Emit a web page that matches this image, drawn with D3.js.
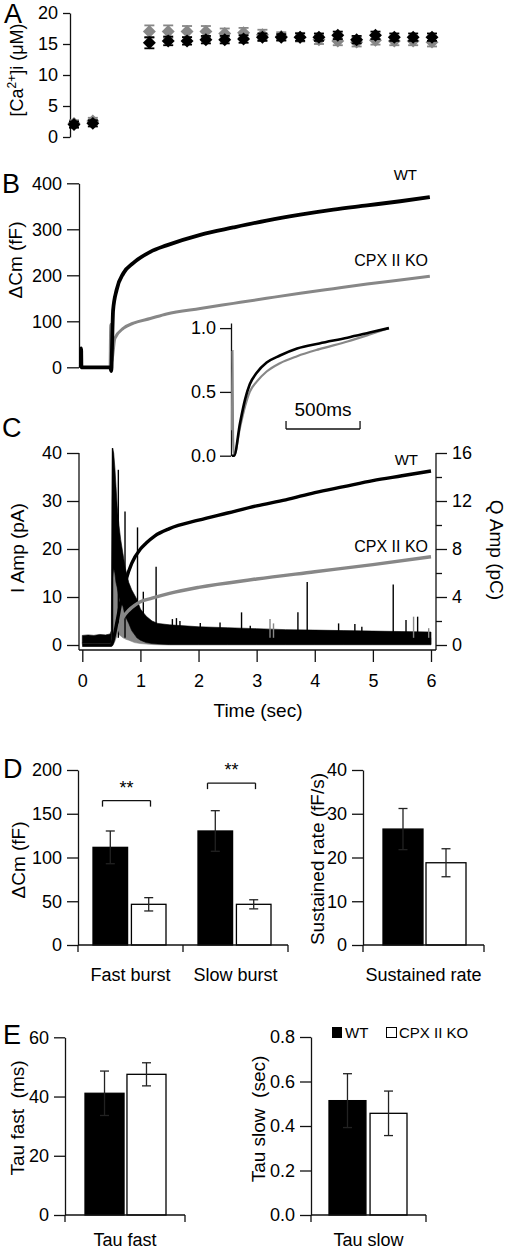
<!DOCTYPE html>
<html><head><meta charset="utf-8">
<script src="https://cdn.jsdelivr.net/npm/d3@7"></script>
<style>
body{margin:0;background:#fff;}
svg{display:block;font-family:"Liberation Sans",Arial,sans-serif;}
</style></head><body>
<svg id="c" width="508" height="1252"></svg>
<script>
// ---------- Panel A data ----------
const caIndex = [0,1,4,5,6,7,8,9,10,11,12,13,14,15,16,17,18,19];
const caWT    = [2.0,2.2,15.2,15.5,15.5,15.7,15.7,15.8,16.1,16.1,16.1,16.1,16.4,15.7,16.4,16.1,16.1,16.1];
const caWTErr = [0.5,0.5,0.9,0.7,0.6,0.6,0.6,0.6,0.6,0.5,0.6,0.6,0.6,0.6,0.6,0.6,0.6,0.6];
const caKO    = [2.2,2.6,17.0,17.0,17.0,17.0,16.7,16.8,16.5,16.2,16.1,15.7,15.5,15.3,15.6,15.5,15.5,15.3];
const caKOErr = [0.5,0.5,1.0,1.0,0.9,0.9,0.8,0.8,0.8,0.7,0.7,0.7,0.7,0.7,0.7,0.7,0.7,0.7];
const caTicks = [0,5,10,15,20];

// ---------- Panel B data ([time s, dCm fF]) ----------
const cmWT = [[-0.025,0],[-0.02,41],[-0.015,0],[0,0],[0.25,0],[0.48,0],[0.5,-8],[0.51,37],[0.53,124],[0.59,168],[0.71,205],[0.88,227],[1.17,251],[1.45,265],[2.03,288],[2.6,304],[3.17,319],[3.75,332],[4.32,343],[4.9,352],[5.47,361],[5.98,370]];
const cmKO = [[0.48,0],[0.49,93],[0.5,10],[0.52,23],[0.56,63],[0.71,85],[0.88,96],[1.17,106],[1.45,116],[2.03,128],[2.6,139],[3.17,150],[3.75,161],[4.32,171],[4.9,181],[5.47,190],[5.98,198]];
const cmTicks = [0,100,200,300,400];
// inset (normalised, [time s, fraction])
const insetWT = [[0,0],[0.014,0],[0.054,0.255],[0.088,0.44],[0.12,0.56],[0.167,0.65],[0.234,0.73],[0.324,0.785],[0.44,0.84],[0.59,0.88],[0.78,0.925],[0.93,0.965],[1.06,1.0]];
const insetKO = [[0,0.2],[0.003,0.82],[0.007,0.15],[0.014,0],[0.054,0.22],[0.088,0.385],[0.12,0.5],[0.167,0.58],[0.234,0.66],[0.324,0.725],[0.44,0.78],[0.59,0.835],[0.78,0.895],[0.93,0.95],[1.06,1.0]];
const insetTicks = [0,0.5,1.0];

// ---------- Panel C data ----------
const timeTicks = [0,1,2,3,4,5,6];
const iTicks = [0,10,20,30,40];
const qTicks = [0,4,8,12,16];
const qMinor = [2,6,10,14];
// current envelopes [t, low, high] (pA)
const iWTBand = [[0,0.3,2.0],[0.1,0.4,2.1],[0.2,0.3,2.0],[0.3,0.4,2.2],[0.4,0.4,2.1],[0.48,0.4,2.3],[0.5,0.5,3],[0.51,5,30],[0.52,14,41],[0.54,16,40],[0.56,15,37],[0.58,13,33],[0.6,12,29],[0.63,10,25],[0.66,9,22],[0.7,8,19],[0.74,6,16],[0.8,4.5,13],[0.85,3,11.5],[0.94,1.5,9.5],[1.0,1.0,7.5],[1.1,0.5,6.0],[1.2,0.3,5.0],[1.3,0.2,4.5],[1.5,0.1,4.2],[2.0,0.1,3.8],[2.5,0.1,3.6],[3.0,0.1,3.4],[3.5,0.1,3.2],[4.0,0.1,3.1],[4.5,0.1,3.0],[5.0,0.1,2.9],[5.5,0.1,2.8],[6.0,0.1,2.7]];
const iKOBand = [[0,0,0.5],[0.5,0,0.5],[0.51,0.5,15],[0.53,2,30],[0.56,3,24],[0.6,2.5,18],[0.65,2,13],[0.7,1.5,10],[0.75,1.2,7],[0.8,1,5],[0.9,0.5,3.5],[1.0,0.3,2.5],[1.2,0.1,1.8],[1.5,0,1.5],[6,0,1.5]];
const iWTSpikes = [[0.52,41],[0.62,36.5],[0.735,27.8],[0.95,24.5],[1.05,11.1],[1.27,16.3],[1.55,5.4],[1.62,5.6],[1.68,5.0],[2.03,4.6],[2.37,4.7],[2.74,6.8],[2.89,4.0],[3.71,6.8],[3.87,13.1],[4.41,4.5],[4.69,4.4],[4.81,3.8],[5.35,12.6],[5.57,5.2],[5.77,5.9]];
const iKOSpikes = [[3.23,5.4],[3.29,4.5],[5.70,5.9],[5.96,3.5]];
// charge [t, pC]
const qWT = [[0,0],[0.5,0],[0.55,0.8],[0.6,2.0],[0.68,4.0],[0.75,5.4],[0.85,6.8],[1.0,8.0],[1.1,8.5],[1.25,9.1],[1.5,9.7],[2.0,10.4],[2.5,11.0],[3.0,11.6],[3.5,12.1],[4.0,12.7],[4.5,13.2],[5.0,13.7],[5.5,14.1],[6.0,14.5]];
const qKO = [[0,0],[0.5,0],[0.6,1.2],[0.7,2.3],[0.8,2.9],[0.9,3.3],[1.0,3.6],[1.2,3.9],[1.5,4.3],[2.0,4.8],[3.0,5.5],[4.0,6.1],[5.0,6.7],[6.0,7.35]];

// ---------- Panel D / E data ----------
const burstCats = ["Fast burst","Slow burst"];
const burstWT = [111.6,130.3], burstWTErr = [18.7,23.2];
const burstKO = [46.5,46.5],  burstKOErr = [7.6,5.2];
const burstTicks = [0,50,100,150,200];
const sustCats = ["Sustained rate"];
const sustWT = [26.5], sustWTErr = [4.7];
const sustKO = [18.8], sustKOErr = [3.2];
const sustTicks = [0,10,20,30,40];
const tauFastCats = ["Tau fast"];
const tauFastWT = [41.1], tauFastWTErr = [7.5];
const tauFastKO = [47.5], tauFastKOErr = [3.9];
const tauFastTicks = [0,20,40,60];
const tauSlowCats = ["Tau slow"];
const tauSlowWT = [0.514], tauSlowWTErr = [0.121];
const tauSlowKO = [0.457], tauSlowKOErr = [0.10];
const tauSlowTicks = [0,0.2,0.4,0.6,0.8];

// ================= drawing =================
const svg = d3.select("#c");
const GRAY = "#878787";
const AX = "#111";

function styleAxis(g, fs){
  g.selectAll("text").attr("font-size", fs||18).attr("fill","#000").attr("font-family","Liberation Sans, Arial, sans-serif");
  g.selectAll("line,path").attr("stroke",AX).attr("stroke-width",1.3);
  return g;
}
function label(x,y,s,opt){
  opt = opt||{};
  const t = svg.append("text").attr("x",x).attr("y",y).text(s)
    .attr("font-size",opt.fs||19).attr("fill","#000")
    .attr("text-anchor",opt.anchor||"start");
  if(opt.rot!==undefined) t.attr("transform",`rotate(${opt.rot},${x},${y})`);
  return t;
}
function hline(x1,x2,y,w){svg.append("line").attr("x1",x1).attr("x2",x2).attr("y1",y).attr("y2",y).attr("stroke",AX).attr("stroke-width",w||1.3);}
function vline(x,y1,y2,w,c){svg.append("line").attr("x1",x).attr("x2",x).attr("y1",y1).attr("y2",y2).attr("stroke",c||AX).attr("stroke-width",w||1.3);}

// panel letters
[["A",4,23],["B",2,193],["C",2,437],["D",3,778],["E",3,1044]].forEach(d=>label(d[1],d[2],d[0],{fs:27}));

// ---- Panel A ----
const xA = d3.scaleLinear().domain([0,19]).range([74,432]);
const yA = d3.scaleLinear().domain([0,20]).range([137,13]);
styleAxis(svg.append("g").attr("transform","translate(70,0)")
  .call(d3.axisLeft(yA).tickValues(caTicks).tickSize(7).tickSizeOuter(0).tickPadding(5)));
const lblA = svg.append("text").attr("transform","translate(23,70) rotate(-90)").attr("text-anchor","middle").attr("font-size",18);
lblA.append("tspan").text("[Ca");
lblA.append("tspan").text("2+").attr("font-size",12).attr("dy",-7);
lblA.append("tspan").text("]i (\u03bcM)").attr("dy",7);

function caSeries(vals, errs, color){
  const g = svg.append("g");
  caIndex.forEach((idx,i)=>{
    const x = xA(idx), v = vals[i], e = errs[i];
    g.append("line").attr("x1",x).attr("x2",x).attr("y1",yA(v-e)).attr("y2",yA(v+e)).attr("stroke",color).attr("stroke-width",1.8);
    [v-e,v+e].forEach(w=>g.append("line").attr("x1",x-5).attr("x2",x+5).attr("y1",yA(w)).attr("y2",yA(w)).attr("stroke",color).attr("stroke-width",1.8));
    g.append("path").attr("d",d3.symbol().type(d3.symbolSquare).size(84)())
      .attr("transform",`translate(${x},${yA(v)}) rotate(45)`).attr("fill",color);
  });
}
caSeries(caKO, caKOErr, GRAY);
caSeries(caWT, caWTErr, "#000");

// ---- Panel B ----
const xT = d3.scaleLinear().domain([0,6]).range([82.3,431]);
const yB = d3.scaleLinear().domain([0,400]).range([367.3,183.3]);
styleAxis(svg.append("g").attr("transform","translate(79,0)")
  .call(d3.axisLeft(yB).tickValues(cmTicks).tickSize(12).tickSizeOuter(0).tickPadding(5)));
label(22,260,"\u0394Cm (fF)",{anchor:"middle",rot:-90});
const lineB = d3.line().x(d=>xT(d[0])).y(d=>yB(d[1])).curve(d3.curveMonotoneX);
svg.append("path").attr("d",lineB(cmKO)).attr("fill","none").attr("stroke",GRAY).attr("stroke-width",3.0).attr("stroke-linejoin","round");
svg.append("path").attr("d",lineB(cmWT)).attr("fill","none").attr("stroke","#000").attr("stroke-width",3.8).attr("stroke-linejoin","round");
label(417,180,"WT",{fs:15,anchor:"end"});
label(428,266,"CPX II KO",{fs:16,anchor:"end"});

// inset
const xI = d3.scaleLinear().domain([0,1.07]).range([232,390.4]);
const yI = d3.scaleLinear().domain([0,1.04]).range([455.7,323]);
styleAxis(svg.append("g").attr("transform","translate(231,0)")
  .call(d3.axisLeft(yI).tickValues(insetTicks).tickFormat(d3.format(".1f")).tickSize(11).tickSizeOuter(0).tickPadding(4)));
const lineI = d3.line().x(d=>xI(d[0])).y(d=>yI(d[1])).curve(d3.curveMonotoneX);
svg.append("path").attr("d",lineI(insetKO)).attr("fill","none").attr("stroke",GRAY).attr("stroke-width",2.2);
svg.append("path").attr("d",lineI(insetWT)).attr("fill","none").attr("stroke","#000").attr("stroke-width",2.6);
const sb0 = xI(0.365), sb1 = xI(0.865);
hline(sb0,sb1,429); vline(sb0,421,429); vline(sb1,421,429);
label((sb0+sb1)/2,416,"500ms",{anchor:"middle"});

// ---- Panel C ----
const yIc = d3.scaleLinear().domain([0,40]).range([645,453]);
const yQ  = d3.scaleLinear().domain([0,16]).range([645,453]);
const gl = styleAxis(svg.append("g").attr("transform","translate(79,0)")
  .call(d3.axisLeft(yIc).tickValues(iTicks).tickSize(12).tickSizeOuter(0).tickPadding(5)));
gl.select(".domain").remove();
const gr = styleAxis(svg.append("g").attr("transform","translate(436,0)")
  .call(d3.axisRight(yQ).tickValues(qTicks).tickSize(11).tickSizeOuter(0).tickPadding(5)));
gr.select(".domain").remove();
const grm = styleAxis(svg.append("g").attr("transform","translate(436,0)")
  .call(d3.axisRight(yQ).tickValues(qMinor).tickFormat("").tickSize(6).tickSizeOuter(0)));
grm.select(".domain").remove();
const gb = styleAxis(svg.append("g").attr("transform","translate(0,650)")
  .call(d3.axisBottom(xT).tickValues(timeTicks).tickFormat(d3.format("d")).tickSize(12).tickSizeOuter(0).tickPadding(12)));
gb.select(".domain").remove();
vline(79,453,650); vline(436,453,650); hline(79,436,650);
label(24,548,"I Amp (pA)",{anchor:"middle",rot:-90});
label(490,550,"Q Amp (pC)",{anchor:"middle",rot:90});
label(258,717,"Time (sec)",{anchor:"middle"});

const areaI = d3.area().x(d=>xT(d[0])).y0(d=>yIc(d[1])).y1(d=>yIc(d[2]));
svg.append("path").attr("d",areaI(iKOBand)).attr("fill",GRAY).attr("stroke",GRAY).attr("stroke-width",0.6);
svg.append("path").attr("d",areaI(iWTBand)).attr("fill","#000").attr("stroke","#000").attr("stroke-width",0.6);
iWTSpikes.forEach(d=>vline(xT(d[0]),yIc(1.5),yIc(d[1]),1.4,"#000"));
iKOSpikes.forEach(d=>vline(xT(d[0]),yIc(1.5),yIc(d[1]),1.4,GRAY));
const lineQ = d3.line().x(d=>xT(d[0])).y(d=>yQ(d[1])).curve(d3.curveMonotoneX);
svg.append("path").attr("d",lineQ(qKO)).attr("fill","none").attr("stroke",GRAY).attr("stroke-width",3.4);
svg.append("path").attr("d",lineQ(qWT)).attr("fill","none").attr("stroke","#000").attr("stroke-width",3.4);
label(418,465,"WT",{fs:15,anchor:"end"});
label(428,552,"CPX II KO",{fs:16,anchor:"end"});

// ---- bar panels ----
function barPanel(o){
  const xb = d3.scaleBand().domain(o.cats).range([o.xl,o.xr]);
  const xi = d3.scaleBand().domain(["WT","KO"]).range(o.inner).paddingInner(o.pad);
  const y = d3.scaleLinear().domain([0,o.ticks[o.ticks.length-1]]).range(o.yr);
  const series = [["WT",o.wt,o.wtE,"#000"],["KO",o.ko,o.koE,"#fff"]];
  series.forEach(s=>{
    o.cats.forEach((c,i)=>{
      svg.append("rect").attr("x",xb(c)+xi(s[0])).attr("width",xi.bandwidth())
        .attr("y",y(s[1][i])).attr("height",y(0)-y(s[1][i]))
        .attr("fill",s[3]).attr("stroke","#000").attr("stroke-width",1.3);
    });
  });
  series.forEach(s=>{
    o.cats.forEach((c,i)=>{
      const cx = xb(c)+xi(s[0])+xi.bandwidth()/2, v=s[1][i], e=s[2][i];
      vline(cx,y(v-e),y(v+e),1.3,"#222");
      [v-e,v+e].forEach(w=>svg.append("line").attr("x1",cx-4.5).attr("x2",cx+4.5).attr("y1",y(w)).attr("y2",y(w)).attr("stroke","#222").attr("stroke-width",1.3));
    });
  });
  styleAxis(svg.append("g").attr("transform",`translate(${o.xl},0)`)
    .call(d3.axisLeft(y).tickValues(o.ticks).tickFormat(o.fmt||null).tickSize(11).tickSizeOuter(0).tickPadding(5)));
  hline(o.xl,o.xr,y(0));
  const bounds = [o.xl].concat(o.cats.map(c=>xb(c)+xb.bandwidth()));
  bounds.forEach(b=>vline(b,y(0),y(0)+7));
  o.cats.forEach(c=>label(xb(c)+xb.bandwidth()/2,o.catY,c,{fs:18,anchor:"middle"}));
  return {xb,xi,y};
}
const D1 = barPanel({cats:burstCats,wt:burstWT,wtE:burstWTErr,ko:burstKO,koE:burstKOErr,xl:78,xr:288,yr:[945,770],ticks:burstTicks,inner:[15,88],pad:0.1,catY:981});
label(25,860,"\u0394Cm (fF)",{anchor:"middle",rot:-90});
// significance brackets
[[165,"Fast burst"],[185,"Slow burst"]].forEach(b=>{
  const c = D1.xb(b[1])+D1.xb.bandwidth()/2 - 4, yy = D1.y(b[0]);
  hline(c-24,c+24,yy); vline(c-24,yy,yy+6); vline(c+24,yy,yy+6);
  label(c,yy-7,"**",{fs:18,anchor:"middle"});
});
barPanel({cats:sustCats,wt:sustWT,wtE:sustWTErr,ko:sustKO,koE:sustKOErr,xl:363,xr:484,yr:[945,770],ticks:sustTicks,inner:[20,103],pad:0.07,catY:981});
label(324,859,"Sustained rate (fF/s)",{anchor:"middle",rot:-90});
barPanel({cats:tauFastCats,wt:tauFastWT,wtE:tauFastWTErr,ko:tauFastKO,koE:tauFastKOErr,xl:65,xr:185,yr:[1215,1037.3],ticks:tauFastTicks,inner:[20,101],pad:0.07,catY:1246});
label(24,1118,"Tau fast\u00a0 (ms)",{anchor:"middle",rot:-90});
barPanel({cats:tauSlowCats,wt:tauSlowWT,wtE:tauSlowWTErr,ko:tauSlowKO,koE:tauSlowKOErr,xl:311,xr:426,yr:[1215,1037],ticks:tauSlowTicks,fmt:d3.format(".1f"),inner:[18,96],pad:0.1,catY:1246});
label(265,1119,"Tau slow\u00a0 (sec)",{anchor:"middle",rot:-90});

// legend
svg.append("rect").attr("x",332).attr("y",1027).attr("width",10).attr("height",11).attr("fill","#000");
label(345,1038,"WT",{fs:15});
svg.append("rect").attr("x",386.5).attr("y",1027.5).attr("width",10).attr("height",10).attr("fill","#fff").attr("stroke","#000").attr("stroke-width",1);
label(399,1038,"CPX II KO",{fs:15});
</script>
</body></html>
